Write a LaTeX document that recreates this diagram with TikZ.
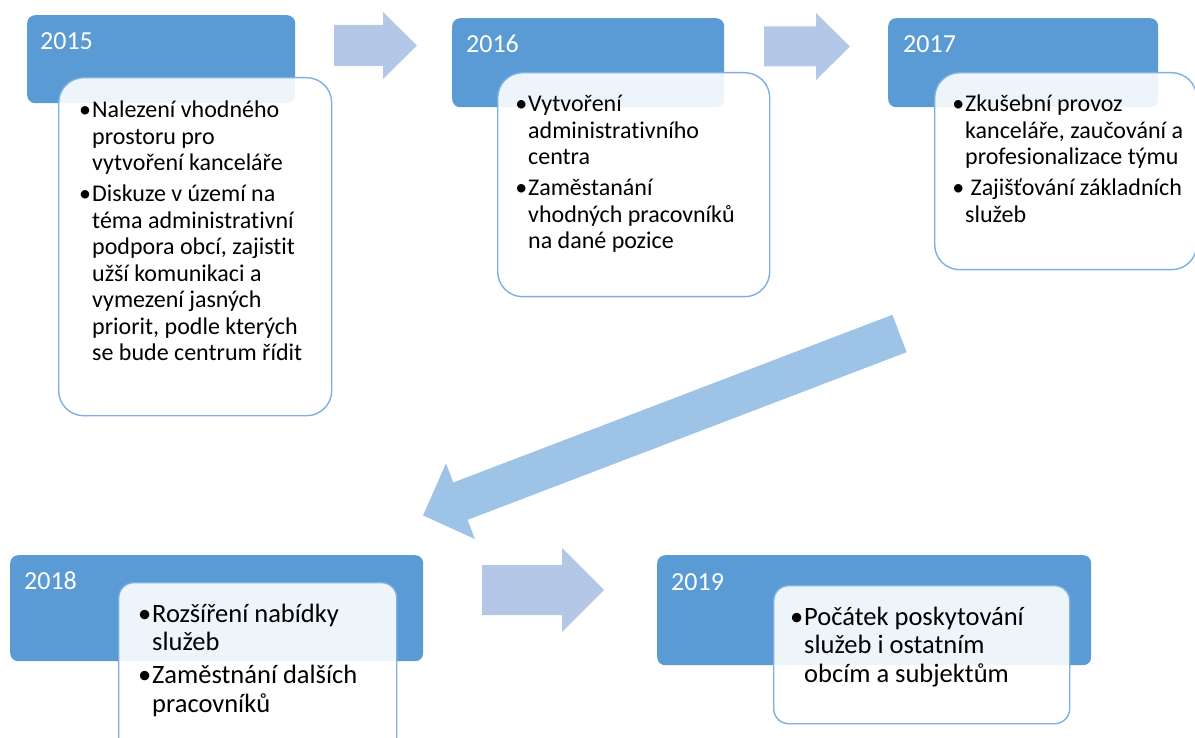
\documentclass[tikz,border=0pt]{standalone}
\usepackage{fontspec}
\setmainfont{Carlito}[Ligatures=CommonOff]
\usetikzlibrary{calc}
\definecolor{headblue}{HTML}{5B9BD5}
\definecolor{edgeblue}{HTML}{7EAFE0}
\definecolor{hoparrow}{HTML}{B4C7E7}
\definecolor{bigarrow}{HTML}{9DC3E6}
\newcommand{\bul}{\llap{\textbullet\kern1pt}}
% block arrow: [style]{length}{head length}{half shaft}{half head}
\newcommand{\blockarrow}[5][]{\fill[#1] (0,-#4) -- ({#2-#3},-#4) -- ({#2-#3},-#5) -- (#2,0) -- ({#2-#3},#5) -- ({#2-#3},#4) -- (0,#4) -- cycle;}
\tikzset{
  head/.style={fill=headblue, rounded corners=8pt, anchor=north west, inner sep=0pt},
  card/.style={draw=edgeblue, line width=1.4pt, fill=white, fill opacity=0.9, rounded corners=25pt, anchor=north west, inner sep=0pt},
  year/.style={text=white, font=\fontsize{26}{30}\selectfont, anchor=base west, inner sep=0pt},
  items/.style={anchor=base west, inner sep=0pt, font=\fontsize{24}{26.5}\selectfont},
  bigitems/.style={items, font=\fontsize{26.5}{28.5}\selectfont},
}
\begin{document}
\begin{tikzpicture}[x=1pt, y=-1pt]
  \useasboundingbox (0,0) rectangle (1195,738);
  \clip (0,0) rectangle (1195,738);
  % headers
  \node[head, minimum width=268, minimum height=88] (h15) at (27,15) {};
  \node[head, minimum width=272, minimum height=89] (h16) at (452,18) {};
  \node[head, minimum width=270, minimum height=89] (h17) at (888,18) {};
  \node[head, minimum width=413, minimum height=106] (h18) at (10,555) {};
  \node[head, minimum width=434, minimum height=110] (h19) at (657,555) {};
  \node[year] (y15) at ($(h15.north west)+(13,35)$) {2015};
  \node[year] (y16) at ($(h16.north west)+(14,35)$) {2016};
  \node[year] (y17) at ($(h17.north west)+(15,35)$) {2017};
  \node[year] (y18) at ($(h18.north west)+(14,34)$) {2018};
  \node[year] (y19) at ($(h19.north west)+(14,35)$) {2019};
  % cards
  \node[card, minimum width=273, minimum height=338] (c15) at (58,77) {};
  \node[card, minimum width=272, minimum height=224] (c16) at (497,72) {};
  \node[card, minimum width=262, minimum height=197] (c17) at (934,72) {};
  \node[card, rounded corners=15pt, minimum width=278, minimum height=170] (c18) at (118,582) {};
  \node[card, rounded corners=15pt, minimum width=296, minimum height=138] (c19) at (773,585) {};
  \node[items] (t15) at ($(c15.north west)+(34,41)$) {\begin{tabular}[t]{@{}l@{}}
    \bul Nalezení vhodného\\ prostoru pro\\ vytvoření kanceláře\\[4.5pt]
    \bul Diskuze v území na\\ téma administrativní\\ podpora obcí, zajistit\\
    užší komunikaci a\\ vymezení jasných\\ priorit, podle kterých\\ se bude centrum řídit
  \end{tabular}};
  \node[items] (t16) at ($(c16.north west)+(31,40)$) {\begin{tabular}[t]{@{}l@{}}
    \bul Vytvoření\\ administrativního\\ centra\\[4.5pt]
    \bul Zaměstanání\\ vhodných pracovníků\\ na dané pozice
  \end{tabular}};
  \node[items] (t17) at ($(c17.north west)+(31,40)$) {\begin{tabular}[t]{@{}l@{}}
    \bul Zkušební provoz\\ kanceláře, zaučování a\\ profesionalizace týmu\\[4.5pt]
    \bul\ Zajišťování základních\\ služeb
  \end{tabular}};
  \node[bigitems] (t18) at ($(c18.north west)+(34,40)$) {\begin{tabular}[t]{@{}l@{}}
    \bul Rozšíření nabídky\\ služeb\\[4.5pt]
    \bul Zaměstnání dalších\\ pracovníků
  \end{tabular}};
  \node[bigitems] (t19) at ($(c19.north west)+(31,40)$) {\begin{tabular}[t]{@{}l@{}}
    \bul Počátek poskytování\\ služeb i ostatním\\ obcím a subjektům
  \end{tabular}};
  % arrows
  \blockarrow[hoparrow, shift={(334,45.5)}]{83}{34}{20.5}{33.5}
  \blockarrow[hoparrow, shift={(764,46.5)}]{86}{34}{20}{33.5}
  \blockarrow[bigarrow, shift={(899.5,333.5)}, rotate=200.9]{510}{40}{20}{40.5}
  \blockarrow[hoparrow, shift={(482,590)}]{122}{42}{25}{42}
\end{tikzpicture}
\end{document}
